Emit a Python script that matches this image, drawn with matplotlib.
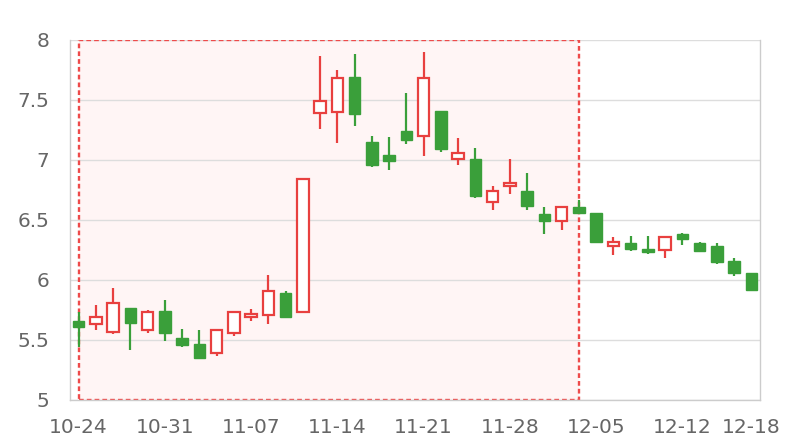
import matplotlib
matplotlib.use("Agg")
import matplotlib.pyplot as plt
import numpy as np

# ----- datos -----
fechas = [
    "10-24", "10-25", "10-26", "10-27", "10-28",
    "10-31", "11-01", "11-02", "11-03", "11-04",
    "11-07", "11-08", "11-09", "11-10", "11-11",
    "11-14", "11-15", "11-16", "11-17", "11-18",
    "11-21", "11-22", "11-23", "11-24", "11-25",
    "11-28", "11-29", "11-30", "12-01", "12-02",
    "12-05", "12-06", "12-07", "12-08", "12-09",
    "12-12", "12-13", "12-14", "12-15", "12-18",
]
apertura = [5.66, 5.63, 5.57, 5.77, 5.58, 5.74, 5.52, 5.47, 5.39, 5.56,
            5.69, 5.71, 5.89, 5.73, 7.39, 7.40, 7.69, 7.15, 7.04, 7.24,
            7.20, 7.41, 7.01, 7.01, 6.65, 6.78, 6.74, 6.55, 6.49, 6.61,
            6.56, 6.28, 6.31, 6.26, 6.25, 6.38, 6.31, 6.28, 6.16, 6.06]
cierre = [5.61, 5.69, 5.81, 5.64, 5.73, 5.56, 5.46, 5.35, 5.58, 5.73,
          5.72, 5.91, 5.69, 6.84, 7.49, 7.68, 7.38, 6.96, 6.99, 7.17,
          7.68, 7.09, 7.06, 6.70, 6.74, 6.81, 6.62, 6.49, 6.61, 6.56,
          6.32, 6.32, 6.26, 6.23, 6.36, 6.34, 6.24, 6.15, 6.06, 5.92]
maximo = [5.73, 5.79, 5.93, 5.77, 5.75, 5.83, 5.59, 5.58, 5.58, 5.73,
          5.76, 6.04, 5.91, 6.85, 7.87, 7.75, 7.88, 7.20, 7.19, 7.56,
          7.90, 7.41, 7.18, 7.10, 6.78, 7.01, 6.89, 6.61, 6.62, 6.67,
          6.56, 6.36, 6.37, 6.37, 6.36, 6.39, 6.32, 6.31, 6.18, 6.06]
minimo = [5.44, 5.58, 5.55, 5.42, 5.56, 5.49, 5.44, 5.35, 5.37, 5.53,
          5.66, 5.63, 5.68, 5.73, 7.26, 7.14, 7.28, 6.94, 6.92, 7.13,
          7.03, 7.07, 6.96, 6.68, 6.58, 6.72, 6.58, 6.38, 6.42, 6.55,
          6.31, 6.21, 6.24, 6.22, 6.18, 6.29, 6.24, 6.13, 6.03, 5.91]

# zona resaltada (índices de inicio y fin)
zona_inicio, zona_fin = 0, 29

etiquetas_idx = [0, 5, 10, 15, 20, 25, 30, 35, 39]

ROJO = "#e8403f"
VERDE = "#3a9f3a"
GRIS_TEXTO = "#666666"

fig, ax = plt.subplots(figsize=(8, 4.4), dpi=100)
fig.subplots_adjust(left=70 / 800, right=760 / 800, top=1 - 40 / 440, bottom=1 - 400 / 440)

x = np.arange(len(fechas))
o = np.array(apertura)
c = np.array(cierre)
h = np.array(maximo)
l = np.array(minimo)
sube = c >= o

# zona sombreada con borde discontinuo
ax.axvspan(zona_inicio, zona_fin, facecolor="#fff5f5", edgecolor="none", zorder=0.2)
ax.axvspan(zona_inicio, zona_fin, facecolor="none", edgecolor="#ee4a4a",
           linestyle=(0, (2.0, 1.3)), linewidth=1.7, zorder=2.5)

# mechas
ax.vlines(x[sube], l[sube], h[sube], color=ROJO, linewidth=1.6, zorder=3)
ax.vlines(x[~sube], l[~sube], h[~sube], color=VERDE, linewidth=1.6, zorder=3)

# cuerpos
ancho = 0.66
alto = np.abs(c - o)
alto = np.where(alto < 0.01, 0.01, alto)
base = np.minimum(o, c)
ax.bar(x[sube], alto[sube], bottom=base[sube], width=ancho,
       facecolor="white", edgecolor=ROJO, linewidth=1.6, zorder=4)
ax.bar(x[~sube], alto[~sube], bottom=base[~sube], width=ancho,
       facecolor=VERDE, edgecolor=VERDE, linewidth=1.0, zorder=4)

ax.set_xlim(-0.5, len(fechas) - 0.5)
ax.set_ylim(5, 8)
ax.set_yticks(np.arange(5, 8.01, 0.5))
ax.set_yticklabels(["5", "5.5", "6", "6.5", "7", "7.5", "8"])
ax.set_xticks(etiquetas_idx)
ax.set_xticklabels([fechas[i] for i in etiquetas_idx])

ax.yaxis.grid(True, color="#dddddd", linewidth=1)
ax.set_axisbelow(True)
for lado in ["left", "right", "bottom"]:
    ax.spines[lado].set_color("#cccccc")
    ax.spines[lado].set_linewidth(1)
ax.spines["top"].set_visible(False)

ax.tick_params(axis="both", length=0, labelsize=14.5, colors=GRIS_TEXTO)
ax.tick_params(axis="y", pad=15)
ax.tick_params(axis="x", pad=13)

fig.savefig("out.png", dpi=100)
